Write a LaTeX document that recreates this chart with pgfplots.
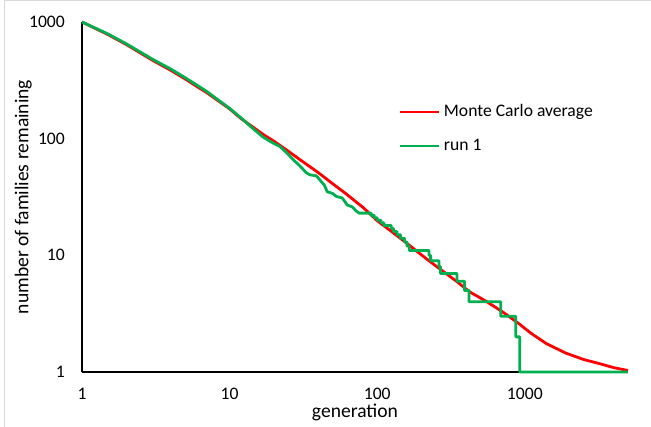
\documentclass[border=0pt]{standalone}
\usepackage{fontspec}
\setmainfont{Carlito}
\usepackage{pgfplots}
\pgfplotsset{compat=1.18}
\definecolor{mcred}{RGB}{255,0,0}
\definecolor{rungreen}{RGB}{0,176,80}
\begin{document}
\begin{tikzpicture}[font=\fontsize{17.6}{21}\selectfont]
\useasboundingbox (0pt,0pt) rectangle (651pt,427pt);
\draw[black!15, line width=1pt] (4.5pt,0pt) -- (4.5pt,426pt) -- (651pt,426pt);
\begin{axis}[
  at={(82pt,55pt)}, anchor=south west,
  scale only axis, width=546pt, height=350pt,
  xmode=log, ymode=log,
  xmin=1, xmax=5000, ymin=1, ymax=1000,
  axis x line=bottom, axis y line=left,
  axis line style={-, line width=1.6pt, black},
  major tick length=0pt, minor tick length=0pt,
  xtick={1,10,100,1000}, xticklabels={1,10,100,1000},
  ytick={1,10,100,1000}, yticklabels={1,10,100,1000},
  xminorticks=false, yminorticks=false,
  xticklabel style={anchor=north, inner sep=0pt, yshift=-16pt},
  yticklabel style={anchor=east, inner sep=0pt, xshift=-17pt},
  xlabel={generation}, ylabel={number of families remaining},
  xlabel style={at={(axis description cs:0.5,-0.1314)}, anchor=base, font=\fontsize{19.6}{23}\selectfont},
  ylabel style={at={(axis description cs:-0.098,0.5)}, anchor=base, font=\fontsize{19.6}{23}\selectfont},
  clip=false,
  legend style={draw=none, fill=none, inner sep=0pt, outer sep=0pt,
    at={(axis description cs:0.579,0.694)}, anchor=west,
    nodes={inner sep=0pt, text height=12pt, text depth=4pt},
    row sep=18pt, font=\fontsize{17.6}{21}\selectfont},
  legend cell align=left,
  legend image code/.code={\draw[#1] (0pt,0pt) -- (39pt,0pt); \path (43pt,0pt);},
]
\addplot[mcred, line width=2.8pt, line join=round] coordinates {
(1,1000) (1.5,780) (2,640) (3,470) (4,385) (5,325) (6,280) (7,248) (8,220)
(10,180) (12,148) (15,121) (17,108) (20,95) (25,78) (30,66) (35,57.5) (40,51)
(50,41) (60,34.5) (70,29.5) (80,25.8) (100,19.8) (125,16) (150,13.4) (183,11)
(214,9.4) (250,8.1) (292,7) (350,5.9) (419,4.9) (553,4) (700,3.3) (780,3)
(910,2.6) (1100,2.15) (1400,1.75) (1900,1.45) (2500,1.28) (3200,1.18)
(4000,1.09) (5000,1.03)
};
\addlegendentry{Monte Carlo average}
\addplot[rungreen, line width=2.8pt, line join=round] coordinates {
(1,1000) (1.5,790) (2,650) (3,480) (4,395) (5,333) (6,288) (7,254) (8,224)
(10,182) (12,150) (14,126) (16.7,104) (19,94) (21.8,86) (24.3,76) (27,66)
(29.7,59) (33.1,51) (35,49) (38.7,48) (43.8,40) (45.9,35) (49.7,34) (52.8,32)
(58,31) (62.7,27) (67.8,26) (72,24) (75.6,23)
(91,23) (91,22) (95.5,22) (95.5,21) (100,21) (100,20) (106,20) (106,19)
(111,19) (111,18) (124.5,18) (124.5,17) (129,17) (129,16) (136,16) (136,15)
(144,15) (144,14) (153,14) (153,13) (159,13) (159,12) (165,12) (165,11)
(224,11) (224,10) (230,10) (230,9) (262,9) (262,8) (268,8) (268,7)
(347,7) (347,6) (390,6) (390,5) (419,5) (419,4) (688,4) (688,3)
(869,3) (869,2) (925,2) (925,1) (5000,1)
};
\addlegendentry{run 1}
\end{axis}
\end{tikzpicture}
\end{document}
